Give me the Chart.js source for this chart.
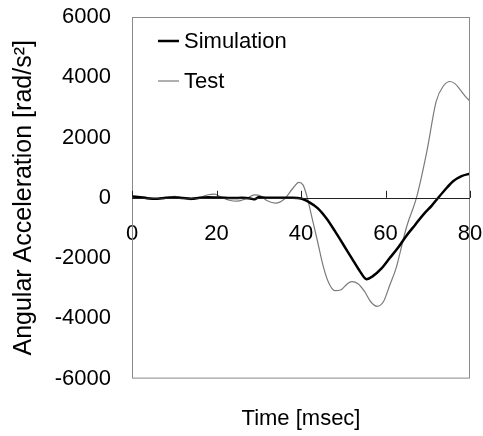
<!DOCTYPE html>
<html lang="en">
<head>
  <meta charset="UTF-8">
  <title>Angular Acceleration</title>
  <script src="https://cdn.jsdelivr.net/npm/chart.js"></script>
  <style>
    body {
      margin: 0;
      background: #fff;
    }

    .chart-box {
      width: 483px;
      height: 436px;
    }
  </style>
</head>
<body>
  <div class="chart-box">
    <canvas id="accChart" width="483" height="436"></canvas>
  </div>

  <script>
    // Simulation curve (time in msec, acceleration in rad/s^2)
    const simTime = [0, 2, 4, 6, 8, 10, 12, 14, 16, 18, 20, 22, 24, 26, 28, 29, 30, 32, 34, 36, 38, 40,
      42, 44, 46, 48, 50, 52, 54, 55.5, 57, 59, 61, 63, 65, 67, 69, 71, 72, 74, 76, 78, 80];
    const simValues = [40, 20, -20, -30, 0, 10, -10, -30, 0, 20, 10, 0, -10, 0, -20, -50, 20, 0, 0, 0, 0, -20,
      -150, -350, -680, -1100, -1550, -2000, -2450, -2700, -2600, -2350, -2000, -1650, -1250, -900, -550, -250, -80, 250, 550, 720, 800];

    // Test curve
    const testTime = [0, 2, 4, 6, 8, 10, 12, 14, 16, 18, 19.5, 21, 23, 25, 27, 29, 30.5, 32, 34, 36, 38, 39.5,
      40.5, 41.5, 42.5, 44, 45.3, 46.5, 48, 49.5, 51, 52, 53.5, 55, 56.5, 58, 59.5, 61, 62.6, 64, 65,
      67.4, 69.8, 72, 73.7, 75.3, 76.5, 77.6, 79, 80];
    const testValues = [60, 30, 0, -40, 0, 50, 0, -60, 0, 100, 120, 30, -80, -110, -30, 100, 60, -100, -180, -50, 300, 510,
      420, 0, -600, -1500, -2290, -2800, -3080, -3050, -2850, -2780, -2850, -3100, -3450, -3600, -3450, -2900, -2290, -1500, -960,
      40, 1550, 3200, 3710, 3860, 3780, 3600, 3350, 3210];

    const xTicks = [0, 20, 40, 60, 80];
    const yTicks = [-6000, -4000, -2000, 0, 2000, 4000, 6000];

    const seriesNames = ['Simulation', 'Test'];
    const xTitle = 'Time [msec]';
    const yTitle = 'Angular Acceleration [rad/s\u00B2]';

    const FONT = "'Liberation Sans', Arial, sans-serif";

    const toPoints = (xs, ys) => xs.map((x, i) => ({ x: x, y: ys[i] }));

    const noPadding = s => {
      s.paddingLeft = 0;
      s.paddingRight = 0;
      s.paddingTop = 0;
      s.paddingBottom = 0;
    };

    // frame, zero line, inward ticks and legend
    const decorations = {
      id: 'decorations',
      afterDatasetsDraw(chart) {
        const { ctx, chartArea } = chart;
        const xs = chart.scales.x2;
        const ys = chart.scales.y;
        const y0 = ys.getPixelForValue(0);

        ctx.save();
        ctx.strokeStyle = '#8a8a8a';
        ctx.lineWidth = 1;
        ctx.strokeRect(chartArea.left + 0.5, chartArea.top + 0.5,
          chartArea.width - 1, chartArea.height - 1);

        ctx.strokeStyle = '#222';
        ctx.beginPath();
        ctx.moveTo(chartArea.left, Math.round(y0) + 0.5);
        ctx.lineTo(chartArea.right, Math.round(y0) + 0.5);
        xTicks.forEach(t => {
          const px = Math.round(xs.getPixelForValue(t)) + 0.5;
          ctx.moveTo(px, y0);
          ctx.lineTo(px, y0 - 7);
        });
        ctx.stroke();

        // legend
        ctx.font = '22px ' + FONT;
        ctx.textBaseline = 'middle';
        ctx.fillStyle = '#000';
        const rows = [41, 81];
        chart.data.datasets.forEach((ds, i) => {
          ctx.strokeStyle = ds.borderColor;
          ctx.lineWidth = ds.borderWidth;
          ctx.beginPath();
          ctx.moveTo(158, rows[i]);
          ctx.lineTo(179, rows[i]);
          ctx.stroke();
          ctx.fillText(ds.label, 184, rows[i] + 1);
        });
        ctx.restore();
      }
    };

    window.onload = () => {
      const ctx = document.getElementById('accChart').getContext('2d');
      new Chart(ctx, {
        type: 'line',
        data: {
          datasets: [
            {
              label: seriesNames[0],
              data: toPoints(simTime, simValues),
              borderColor: '#000',
              borderWidth: 2.5,
              pointRadius: 0,
              cubicInterpolationMode: 'monotone',
              fill: false
            },
            {
              label: seriesNames[1],
              data: toPoints(testTime, testValues),
              borderColor: '#7a7a7a',
              borderWidth: 1.2,
              pointRadius: 0,
              cubicInterpolationMode: 'monotone',
              fill: false
            }
          ]
        },
        options: {
          responsive: false,
          animation: false,
          layout: { padding: { top: 17, right: 13, left: 0, bottom: 0 } },
          plugins: {
            legend: { display: false },
            tooltip: { enabled: false }
          },
          scales: {
            x: {
              type: 'linear',
              position: 'bottom',
              min: 0,
              max: 80,
              afterFit: noPadding,
              grid: { display: false, drawTicks: false },
              border: { display: false },
              ticks: { display: false },
              title: {
                display: true,
                text: xTitle,
                color: '#000',
                font: { family: FONT, size: 22 },
                padding: { top: 27, bottom: 4 }
              }
            },
            x2: {
              type: 'linear',
              position: { y: 0 },
              min: 0,
              max: 80,
              afterBuildTicks: s => { s.ticks = xTicks.map(v => ({ value: v })); },
              afterFit: noPadding,
              grid: { display: false, drawTicks: false },
              border: { display: false },
              ticks: {
                color: '#000',
                padding: 23,
                maxRotation: 0,
                callback: v => String(v),
                font: { family: FONT, size: 22 }
              }
            },
            y: {
              min: -6000,
              max: 6000,
              afterBuildTicks: s => { s.ticks = yTicks.map(v => ({ value: v })); },
              afterFit: s => { s.width = 132; noPadding(s); },
              grid: { display: false, drawTicks: false },
              border: { display: false },
              ticks: {
                color: '#000',
                padding: 21,
                callback: v => String(v),
                font: { family: FONT, size: 22 }
              },
              title: {
                display: true,
                text: yTitle,
                color: '#000',
                font: { family: FONT, size: 25 },
                padding: { top: 9, bottom: 0 }
              }
            }
          }
        },
        plugins: [decorations]
      });
    };
  </script>
</body>
</html>
